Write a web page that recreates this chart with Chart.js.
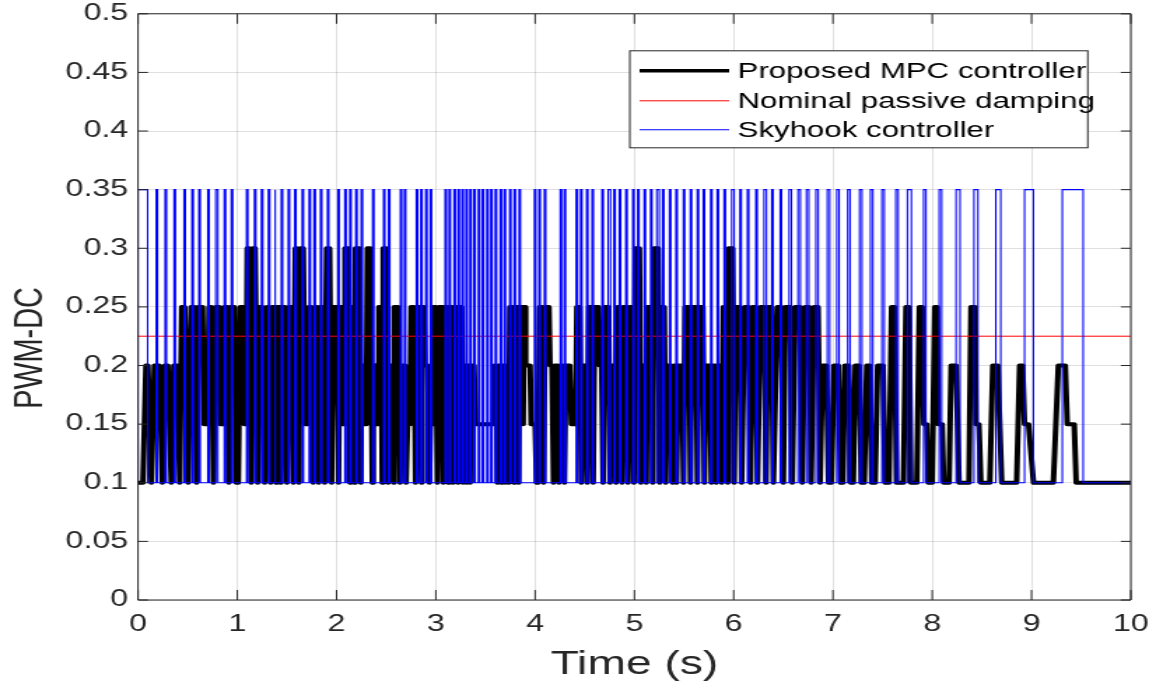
<!DOCTYPE html>
<html>
<head>
<meta charset="utf-8">
<title>PWM-DC</title>
<script src="https://cdn.jsdelivr.net/npm/chart.js@4.4.1/dist/chart.umd.min.js"></script>
<style>
    html, body { margin: 0; padding: 0; background: #fff; overflow: hidden; }
    /* The original figure is stretched sideways, so the canvas is drawn narrow and widened. */
    #wrap { width: 826px; height: 689px; transform: scaleX(1.3995); transform-origin: 0 0; }
</style>
</head>
<body>
<div id="wrap"><canvas id="pwmChart" width="826" height="689"></canvas></div>
<script>
'use strict'

const X_STRETCH = 1156 / 826;

const seriesLabels = ['Proposed MPC controller', 'Nominal passive damping', 'Skyhook controller'];
const xTitle = 'Time (s)';
const yTitle = 'PWM-DC';
const xTickValues = [0, 1, 2, 3, 4, 5, 6, 7, 8, 9, 10];
const xTickLabels = ['0', '1', '2', '3', '4', '5', '6', '7', '8', '9', '10'];
const yTickValues = [0, 0.05, 0.1, 0.15, 0.2, 0.25, 0.3, 0.35, 0.4, 0.45, 0.5];
const yTickLabels = ['0', '0.05', '0.1', '0.15', '0.2', '0.25', '0.3', '0.35', '0.4', '0.45', '0.5'];

// Nominal passive damping: constant duty cycle.
const nominalTime = [0, 10];
const nominalValue = [0.225, 0.225];

// Skyhook controller: switches between two levels, pulses given by their edges (s).
const skyhookLow = 0.1;
const skyhookHigh = 0.35;
const skyhookRise = [
    0, 0.183, 0.273, 0.363, 0.463, 0.543, 0.613, 0.703, 0.783, 0.869,
    0.94, 1.093, 1.173, 1.243, 1.313, 1.373, 1.443, 1.513, 1.578, 1.653,
    1.723, 1.773, 1.838, 1.908, 2.013, 2.083, 2.133, 2.193, 2.248, 2.363,
    2.473, 2.523, 2.643, 2.683, 2.803, 2.848, 2.898, 2.943, 3.093, 3.133,
    3.183, 3.223, 3.263, 3.303, 3.343, 3.383, 3.428, 3.468, 3.513, 3.553,
    3.598, 3.648, 3.688, 3.743, 3.788, 3.838, 3.993, 4.038, 4.093, 4.253,
    4.293, 4.413, 4.458, 4.518, 4.573, 4.673, 4.735, 4.793, 4.848, 4.913,
    4.983, 5.033, 5.098, 5.163, 5.225, 5.283, 5.353, 5.418, 5.493, 5.563,
    5.633, 5.693, 5.768, 5.833, 5.903, 5.98, 6.063, 6.138, 6.223, 6.305,
    6.383, 6.468, 6.558, 6.648, 6.733, 6.828, 6.943, 7.038, 7.148, 7.268,
    7.378, 7.493, 7.633, 7.75, 7.913, 8.07, 8.24, 8.42, 8.64, 8.93, 9.31
];
const skyhookFall = [
    0.097, 0.197, 0.287, 0.377, 0.477, 0.557, 0.627, 0.717, 0.805, 0.883,
    0.954, 1.107, 1.187, 1.257, 1.327, 1.387, 1.457, 1.527, 1.592, 1.667,
    1.737, 1.787, 1.852, 1.922, 2.027, 2.097, 2.147, 2.207, 2.262, 2.377,
    2.487, 2.537, 2.657, 2.697, 2.817, 2.862, 2.912, 2.957, 3.107, 3.147,
    3.197, 3.237, 3.277, 3.317, 3.357, 3.397, 3.442, 3.482, 3.527, 3.567,
    3.612, 3.662, 3.702, 3.757, 3.802, 3.852, 4.007, 4.052, 4.107, 4.267,
    4.307, 4.427, 4.472, 4.532, 4.587, 4.687, 4.76, 4.807, 4.862, 4.927,
    4.997, 5.047, 5.112, 5.177, 5.25, 5.297, 5.367, 5.432, 5.507, 5.577,
    5.647, 5.707, 5.782, 5.847, 5.917, 6.005, 6.077, 6.152, 6.237, 6.33,
    6.397, 6.482, 6.582, 6.672, 6.757, 6.852, 6.967, 7.062, 7.172, 7.292,
    7.402, 7.517, 7.657, 7.79, 7.937, 8.095, 8.28, 8.46, 8.69, 9.02, 9.52
];

// Proposed MPC controller: breakpoints (s) and duty cycle at each one.
const mpcTime = [
    0, 0.05, 0.08, 0.1, 0.135, 0.165, 0.215, 0.245, 0.27, 0.3, 0.335, 0.36, 0.395, 0.42,
    0.44, 0.47, 0.505, 0.535, 0.57, 0.59, 0.605, 0.65, 0.665, 0.7, 0.715, 0.74, 0.76,
    0.785, 0.82, 0.83, 0.86, 0.87, 0.9, 0.915, 0.93, 0.97, 0.99, 1.01, 1.03, 1.06, 1.07, 1.09,
    1.1, 1.12, 1.14, 1.155, 1.18, 1.205, 1.225, 1.255, 1.275, 1.3, 1.315, 1.335, 1.35, 1.375, 1.39,
    1.4, 1.425, 1.44, 1.45, 1.48, 1.5, 1.52, 1.55, 1.565, 1.585, 1.6, 1.62, 1.635, 1.665, 1.68,
    1.71, 1.72, 1.745, 1.765, 1.78, 1.8, 1.82, 1.83, 1.86, 1.88, 1.9, 1.93, 1.95, 1.96, 2.0, 2.02,
    2.03, 2.05, 2.055, 2.08, 2.085, 2.12, 2.135, 2.145, 2.17, 2.18, 2.19, 2.23, 2.245, 2.25, 2.27, 2.28, 2.3,
    2.31, 2.34, 2.36, 2.37, 2.39, 2.395, 2.42, 2.425, 2.45, 2.46, 2.47, 2.5, 2.52, 2.535, 2.56, 2.575,
    2.58, 2.62, 2.64, 2.655, 2.69, 2.7, 2.715, 2.74, 2.75, 2.78, 2.795, 2.81, 2.84, 2.855, 2.86, 2.88,
    2.89, 2.92, 2.935, 2.945, 2.97, 2.975, 3.0, 3.015, 3.03, 3.06, 3.075, 3.085, 3.11, 3.125,
    3.135, 3.16, 3.175, 3.185, 3.21, 3.225, 3.235, 3.26, 3.275, 3.285, 3.3, 3.31, 3.32, 3.335, 3.345,
    3.355, 3.385, 3.4, 3.58, 3.59, 3.61, 3.62, 3.63, 3.65, 3.66, 3.67, 3.69, 3.7, 3.715, 3.725, 3.735,
    3.745, 3.77, 3.785, 3.795, 3.82, 3.835, 3.845, 3.87, 3.88, 3.89, 3.9, 3.905, 3.95, 3.96, 4.0, 4.015, 4.03,
    4.045, 4.07, 4.085, 4.1, 4.14, 4.15, 4.17, 4.185, 4.2, 4.225, 4.24, 4.255, 4.28, 4.295, 4.31, 4.35, 4.365, 4.41,
    4.42, 4.45, 4.465, 4.48, 4.51, 4.525, 4.54, 4.57, 4.585, 4.6, 4.64, 4.65, 4.67, 4.685,
    4.7, 4.74, 4.755, 4.77, 4.8, 4.815, 4.83, 4.86, 4.875, 4.89, 4.92, 4.935, 4.95, 4.98, 4.995,
    5.01, 5.05, 5.065, 5.08, 5.11, 5.12, 5.13, 5.17, 5.185, 5.195, 5.24, 5.255, 5.265, 5.3, 5.315,
    5.335, 5.37, 5.385, 5.4, 5.415, 5.425, 5.44, 5.48, 5.495, 5.51, 5.55, 5.565, 5.58, 5.62, 5.635,
    5.65, 5.69, 5.705, 5.72, 5.76, 5.775, 5.79, 5.81, 5.825, 5.835, 5.865, 5.88, 5.895, 5.925, 5.94, 5.95, 5.99, 6.005,
    6.02, 6.06, 6.08, 6.11, 6.15, 6.17, 6.19, 6.22, 6.24, 6.27, 6.31, 6.325, 6.345, 6.38, 6.4, 6.44, 6.48, 6.5,
    6.52, 6.57, 6.59, 6.62, 6.67, 6.69, 6.72, 6.76, 6.78, 6.81, 6.85, 6.87, 6.895, 6.935, 6.955,
    6.985, 7.01, 7.055, 7.075, 7.1, 7.12, 7.16, 7.18, 7.205, 7.225, 7.265, 7.285, 7.315, 7.34, 7.37, 7.39,
    7.425, 7.45, 7.505, 7.525, 7.565, 7.59, 7.62, 7.64, 7.71, 7.735, 7.765, 7.785, 7.845, 7.87, 7.9, 7.915, 7.945, 7.96,
    8.0, 8.025, 8.05, 8.06, 8.1, 8.115, 8.17, 8.19, 8.24, 8.27, 8.37, 8.39, 8.43, 8.44, 8.47, 8.49,
    8.58, 8.61, 8.66, 8.7, 8.85, 8.88, 8.91, 8.93, 8.97, 9.02, 9.22, 9.27, 9.34, 9.36, 9.43, 9.45, 10
];
const mpcValue = [
    0.1, 0.1, 0.2, 0.2, 0.1, 0.2, 0.2, 0.1, 0.2, 0.2, 0.1, 0.2, 0.2, 0.1,
    0.25, 0.25, 0.1, 0.25, 0.25, 0.1, 0.25, 0.25, 0.15, 0.15, 0.25, 0.25, 0.1,
    0.25, 0.25, 0.15, 0.15, 0.25, 0.25, 0.1, 0.25, 0.25, 0.1, 0.1, 0.25, 0.25, 0.15, 0.15,
    0.3, 0.3, 0.1, 0.3, 0.3, 0.1, 0.25, 0.25, 0.1, 0.25, 0.25, 0.1, 0.25, 0.25, 0.1,
    0.25, 0.25, 0.1, 0.25, 0.25, 0.1, 0.25, 0.25, 0.1, 0.3, 0.3, 0.1, 0.3, 0.3, 0.15,
    0.15, 0.25, 0.25, 0.1, 0.25, 0.25, 0.1, 0.25, 0.25, 0.1, 0.3, 0.3, 0.1, 0.25, 0.25, 0.1,
    0.25, 0.25, 0.15, 0.15, 0.3, 0.3, 0.1, 0.25, 0.25, 0.1, 0.3, 0.3, 0.1, 0.2, 0.2, 0.15, 0.15,
    0.3, 0.3, 0.1, 0.2, 0.2, 0.15, 0.15, 0.25, 0.25, 0.1, 0.3, 0.3, 0.1, 0.2, 0.2, 0.1,
    0.25, 0.25, 0.1, 0.2, 0.2, 0.1, 0.15, 0.15, 0.25, 0.25, 0.1, 0.25, 0.25, 0.1, 0.25, 0.25,
    0.2, 0.2, 0.1, 0.15, 0.15, 0.25, 0.25, 0.1, 0.25, 0.25, 0.1, 0.25, 0.25, 0.1,
    0.25, 0.25, 0.1, 0.25, 0.25, 0.1, 0.25, 0.25, 0.1, 0.2, 0.2, 0.1, 0.2, 0.2, 0.1,
    0.2, 0.2, 0.15, 0.15, 0.2, 0.2, 0.1, 0.2, 0.2, 0.1, 0.2, 0.2, 0.1, 0.2, 0.2, 0.1,
    0.25, 0.25, 0.1, 0.25, 0.25, 0.1, 0.25, 0.25, 0.15, 0.25, 0.25, 0.2, 0.2, 0.15, 0.15, 0.1, 0.1,
    0.25, 0.25, 0.1, 0.25, 0.25, 0.2, 0.2, 0.1, 0.2, 0.2, 0.1, 0.2, 0.2, 0.1, 0.2, 0.2, 0.15, 0.15,
    0.25, 0.25, 0.1, 0.2, 0.2, 0.1, 0.25, 0.25, 0.1, 0.25, 0.25, 0.2, 0.2, 0.1,
    0.25, 0.25, 0.1, 0.2, 0.2, 0.1, 0.25, 0.25, 0.1, 0.25, 0.25, 0.1, 0.25, 0.25, 0.1,
    0.3, 0.3, 0.1, 0.2, 0.2, 0.1, 0.25, 0.25, 0.1, 0.3, 0.3, 0.1, 0.25, 0.25, 0.1,
    0.2, 0.2, 0.1, 0.2, 0.2, 0.1, 0.2, 0.2, 0.1, 0.25, 0.25, 0.1, 0.25, 0.25, 0.1,
    0.25, 0.25, 0.1, 0.2, 0.2, 0.1, 0.2, 0.2, 0.1, 0.2, 0.2, 0.1, 0.25, 0.25, 0.1, 0.3, 0.3, 0.1,
    0.25, 0.25, 0.1, 0.25, 0.25, 0.1, 0.25, 0.25, 0.1, 0.25, 0.25, 0.1, 0.25, 0.25, 0.1, 0.25, 0.25, 0.1,
    0.25, 0.25, 0.1, 0.25, 0.25, 0.1, 0.25, 0.25, 0.1, 0.25, 0.25, 0.1, 0.2, 0.2, 0.1,
    0.1, 0.2, 0.2, 0.1, 0.1, 0.2, 0.2, 0.1, 0.1, 0.2, 0.2, 0.1, 0.1, 0.2, 0.2, 0.1,
    0.1, 0.2, 0.2, 0.1, 0.1, 0.25, 0.25, 0.1, 0.1, 0.25, 0.25, 0.1, 0.1, 0.25, 0.25, 0.15, 0.15, 0.1,
    0.1, 0.25, 0.25, 0.15, 0.15, 0.1, 0.1, 0.2, 0.2, 0.1, 0.1, 0.25, 0.25, 0.15, 0.15, 0.1,
    0.1, 0.2, 0.2, 0.1, 0.1, 0.2, 0.2, 0.15, 0.15, 0.1, 0.1, 0.2, 0.2, 0.15, 0.15, 0.1, 0.1
];

const FONT_FAMILY = "'Liberation Sans', Arial, Helvetica, sans-serif";
const AXIS_COLOR = '#262626';

window.onload = function() {
    if (mpcTime.length !== mpcValue.length || skyhookRise.length !== skyhookFall.length) {
        console.log('Data length mismatch', mpcTime.length, mpcValue.length, skyhookRise.length, skyhookFall.length);
    }
    printPwmChart();
}

/**
 * Turns the skyhook pulse edges into the points of a square wave.
 */
function getSkyhookPoints() {
    let points = [{x: 0, y: skyhookLow}];

    for (let i = 0; i < skyhookRise.length; i++) {
        points.push({x: skyhookRise[i], y: skyhookLow});
        points.push({x: skyhookRise[i], y: skyhookHigh});
        points.push({x: skyhookFall[i], y: skyhookHigh});
        points.push({x: skyhookFall[i], y: skyhookLow});
    }
    points.push({x: 10, y: skyhookLow});

    return points;
}

function zipPoints(xs, ys) {
    return xs.map((x, i) => ({x: x, y: ys[i]}));
}

// Closed axes box with inward tick marks, like the original figure.
const axesBoxPlugin = {
    id: 'axesBox',
    afterDatasetsDraw(chart) {
        const ctx = chart.ctx;
        const area = chart.chartArea;
        const xScale = chart.scales.x;
        const yScale = chart.scales.y;
        const hLen = 10 / X_STRETCH;
        const vLen = 10;

        ctx.save();
        ctx.strokeStyle = AXIS_COLOR;
        ctx.lineWidth = 1;
        ctx.beginPath();
        ctx.rect(area.left, area.top, area.right - area.left, area.bottom - area.top);

        yTickValues.forEach((v) => {
            const y = yScale.getPixelForValue(v);
            ctx.moveTo(area.left, y);
            ctx.lineTo(area.left + hLen, y);
            ctx.moveTo(area.right, y);
            ctx.lineTo(area.right - hLen, y);
        });
        xTickValues.forEach((v) => {
            const x = xScale.getPixelForValue(v);
            ctx.moveTo(x, area.bottom);
            ctx.lineTo(x, area.bottom - vLen);
            ctx.moveTo(x, area.top);
            ctx.lineTo(x, area.top + vLen);
        });
        ctx.stroke();
        ctx.restore();
    }
};

// Legend box inside the top right corner, plus the rotated y axis title.
const boxLegendPlugin = {
    id: 'boxLegend',
    afterDraw(chart) {
        const ctx = chart.ctx;
        const area = chart.chartArea;
        const datasets = chart.data.datasets;
        const boxRight = area.right - 43 / X_STRETCH;
        const boxLeft = area.right - 501 / X_STRETCH;
        const boxTop = area.top + 37;
        const boxBottom = area.top + 134;
        const rows = [57, 87, 116];

        ctx.save();
        ctx.fillStyle = '#ffffff';
        ctx.fillRect(boxLeft, boxTop, boxRight - boxLeft, boxBottom - boxTop);
        ctx.strokeStyle = AXIS_COLOR;
        ctx.lineWidth = 1;
        ctx.strokeRect(boxLeft, boxTop, boxRight - boxLeft, boxBottom - boxTop);

        ctx.font = '22.3px ' + FONT_FAMILY;
        ctx.textBaseline = 'middle';
        ctx.textAlign = 'left';
        datasets.forEach((ds, i) => {
            const y = area.top + rows[i];
            ctx.beginPath();
            ctx.strokeStyle = ds.borderColor;
            ctx.lineWidth = Math.min(ds.borderWidth, 3.5);
            ctx.moveTo(boxLeft + 7, y);
            ctx.lineTo(boxLeft + 71, y);
            ctx.stroke();
            ctx.fillStyle = '#000000';
            ctx.fillText(ds.label, boxLeft + 77, y + 1);
        });
        ctx.restore();

        // y axis title
        ctx.save();
        ctx.translate(21.4, 348);
        ctx.rotate(-Math.PI / 2);
        ctx.scale(0.96, 1);
        ctx.font = '30px ' + FONT_FAMILY;
        ctx.fillStyle = AXIS_COLOR;
        ctx.textAlign = 'center';
        ctx.textBaseline = 'middle';
        ctx.fillText(yTitle, 0, 0);
        ctx.restore();
    }
};

function printPwmChart() {
    const ctx = document.getElementById('pwmChart').getContext('2d');
    const pwmChart = new Chart(ctx, {
        type: 'scatter',
        data: {
            datasets: [{
                label: seriesLabels[0],
                data: zipPoints(mpcTime, mpcValue),
                borderColor: '#000000',
                borderWidth: 4,
                borderJoinStyle: 'round',
                showLine: true,
                pointRadius: 0,
                order: 3
            }, {
                label: seriesLabels[1],
                data: zipPoints(nominalTime, nominalValue),
                borderColor: '#ff0000',
                borderWidth: 1,
                showLine: true,
                pointRadius: 0,
                order: 2
            }, {
                label: seriesLabels[2],
                data: getSkyhookPoints(),
                borderColor: '#0000ff',
                borderWidth: 1.1,
                showLine: true,
                pointRadius: 0,
                order: 1
            }]
        },
        options: {
            responsive: false,
            animation: false,
            events: [],
            layout: {
                padding: {top: 13, right: 18, bottom: 0, left: 0}
            },
            scales: {
                x: {
                    type: 'linear',
                    min: 0,
                    max: 10,
                    afterBuildTicks: (scale) => { scale.ticks = xTickValues.map((v) => ({value: v})); },
                    afterFit: (scale) => { scale.height = 89; },
                    border: {display: false},
                    grid: {
                        color: 'rgba(38,38,38,0.15)',
                        lineWidth: 1,
                        drawTicks: true,
                        tickLength: 11,
                        tickColor: 'rgba(0,0,0,0)'
                    },
                    ticks: {
                        callback: (value, index) => xTickLabels[index],
                        font: {family: FONT_FAMILY, size: 23},
                        color: AXIS_COLOR,
                        padding: 0,
                        maxRotation: 0
                    },
                    title: {
                        display: true,
                        text: xTitle,
                        font: {family: FONT_FAMILY, size: 33},
                        color: AXIS_COLOR,
                        padding: {top: 4, bottom: 4}
                    }
                },
                y: {
                    type: 'linear',
                    min: 0,
                    max: 0.5,
                    afterBuildTicks: (scale) => { scale.ticks = yTickValues.map((v) => ({value: v})); },
                    afterFit: (scale) => { scale.width = 98.6; },
                    border: {display: false},
                    grid: {
                        color: 'rgba(38,38,38,0.15)',
                        lineWidth: 1,
                        drawTicks: true,
                        tickLength: 7,
                        tickColor: 'rgba(0,0,0,0)'
                    },
                    ticks: {
                        callback: (value, index) => yTickLabels[index],
                        font: {family: FONT_FAMILY, size: 23},
                        color: AXIS_COLOR,
                        padding: 0
                    }
                }
            },
            plugins: {
                legend: {display: false},
                tooltip: {enabled: false}
            }
        },
        plugins: [axesBoxPlugin, boxLegendPlugin]
    });
}
</script>
</body>
</html>
